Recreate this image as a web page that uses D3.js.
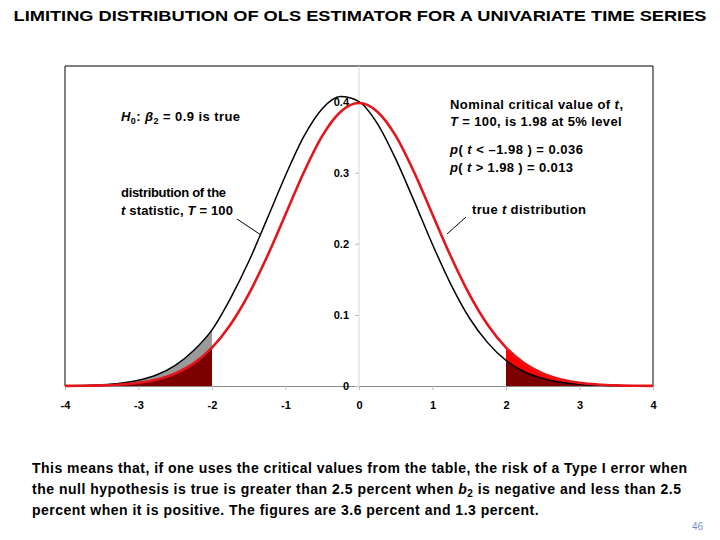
<!DOCTYPE html>
<html><head><meta charset="utf-8">
<script src="https://cdn.jsdelivr.net/npm/d3@7"></script>
<style>body{margin:0;background:#fff}svg{display:block;font-family:"Liberation Sans",Arial,sans-serif;font-weight:bold}</style>
</head><body><svg id="c" width="720" height="540"></svg>
<script>
// grid of t values at which the curves were read
const xs = [-4,-3.75,-3.5,-3.25,-3,-2.75,-2.5,-2.25,-2,-1.75,-1.5,-1.25,-1,-0.75,-0.5,-0.25,0,0.25,0.5,0.75,1,1.25,1.5,1.75,2,2.25,2.5,2.75,3,3.25,3.5,3.75,4];
// true t distribution (red)
const trueT = [0.0002,0.0004,0.0009,0.0021,0.0046,0.0093,0.0176,0.0318,0.0541,0.0862,0.1292,0.1821,0.2413,0.3006,0.3517,0.3857,0.3979,0.3857,0.3517,0.3006,0.2413,0.1821,0.1292,0.0862,0.0541,0.0318,0.0176,0.0093,0.0046,0.0021,0.0009,0.0004,0.0002];
// distribution of the t statistic, T = 100 (black)
const statT = [0.0003,0.0008,0.0018,0.0039,0.0081,0.0158,0.029,0.050,0.079,0.123,0.175,0.235,0.296,0.351,0.390,0.407,0.400,0.369,0.319,0.260,0.199,0.143,0.096,0.061,0.036,0.020,0.0107,0.0053,0.0024,0.0011,0.0004,0.0002,0.0001];
const xTicks = [-4,-3,-2,-1,0,1,2,3,4];
const yTicks = [0,0.1,0.2,0.3,0.4];
const critLow = -2, critHigh = 2;

const svg = d3.select("#c");
const x = d3.scaleLinear().domain([-4,4]).range([65,653]);
const y = d3.scaleLinear().domain([0,0.45]).range([386,66]);
const pts = xs.map((v,i)=>({x:v,r:trueT[i],b:statT[i]}));
const curve = d3.curveMonotoneX;

// stretch a text to a target width with letter spacing
function fit(sel, w){
  const node = sel.node();
  const len = node.getComputedTextLength();
  const n = node.textContent.length;
  if (n > 1) sel.attr("letter-spacing", ((w - len)/(n-1)).toFixed(3));
  return sel;
}

// title
svg.append("text").attr("x",360).attr("y",21).attr("text-anchor","middle")
  .attr("font-size",15).attr("textLength",693).attr("lengthAdjust","spacingAndGlyphs")
  .text("LIMITING DISTRIBUTION OF OLS ESTIMATOR FOR A UNIVARIATE TIME SERIES");

// frame
svg.append("path").attr("d",`M${x(-4)},386V66H${x(4)}V386`).attr("fill","none").attr("stroke","#000").attr("stroke-width",1);
// vertical axis at 0
svg.append("line").attr("x1",x(0)).attr("x2",x(0)).attr("y1",66).attr("y2",386).attr("stroke","#d8d8d8");

// tail fills
const left = pts.filter(d=>d.x<=critLow), right = pts.filter(d=>d.x>=critHigh);
svg.append("path").datum(left).attr("fill","#9a9a9a")
  .attr("d",d3.area().curve(curve).x(d=>x(d.x)).y0(d=>y(d.r)).y1(d=>y(d.b)));
svg.append("path").datum(left).attr("fill","#7d0000")
  .attr("d",d3.area().curve(curve).x(d=>x(d.x)).y0(y(0)).y1(d=>y(d.r)));
svg.append("path").datum(right).attr("fill","#ff0000")
  .attr("d",d3.area().curve(curve).x(d=>x(d.x)).y0(d=>y(d.b)).y1(d=>y(d.r)));
svg.append("path").datum(right).attr("fill","#7d0000")
  .attr("d",d3.area().curve(curve).x(d=>x(d.x)).y0(y(0)).y1(d=>y(d.b)));

// axes
const gx = svg.append("g").attr("transform","translate(0,386)")
  .call(d3.axisBottom(x).tickValues(xTicks).tickSize(4).tickFormat(d=>String(d)));
gx.select(".domain").attr("stroke","#888");
gx.selectAll(".tick line").attr("stroke","#bbb");
gx.selectAll(".tick text").attr("font-size",11).attr("font-family","Liberation Sans, Arial").attr("font-weight","bold").attr("fill","#000").attr("dy","1.45em");

const gy = svg.append("g").attr("transform",`translate(${x(0)},0)`)
  .call(d3.axisLeft(y).tickValues(yTicks).tickSize(4).tickFormat(d=>d===0?"0":d3.format(".1f")(d)));
gy.select(".domain").remove();
gy.selectAll(".tick line").attr("stroke","#bbb");
gy.selectAll(".tick text").attr("font-size",11).attr("font-family","Liberation Sans, Arial").attr("font-weight","bold").attr("fill","#000").attr("x",-10);

// curves
svg.append("path").datum(pts).attr("fill","none").attr("stroke","#000").attr("stroke-width",1.5)
  .attr("d",d3.line().curve(curve).x(d=>x(d.x)).y(d=>y(d.b)));
svg.append("path").datum(pts).attr("fill","none").attr("stroke","#e3161b").attr("stroke-width",2.6)
  .attr("d",d3.line().curve(curve).x(d=>x(d.x)).y(d=>y(d.r)));

// annotations
const fs = 13;
const h0 = svg.append("text").attr("x",121).attr("y",121).attr("font-size",fs);
h0.append("tspan").attr("font-style","italic").text("H");
h0.append("tspan").attr("font-size",9).attr("dy",3).text("0");
h0.append("tspan").attr("dy",-3).text(": ");
h0.append("tspan").attr("font-style","italic").text("β");
h0.append("tspan").attr("font-size",9).attr("dy",3).text("2");
h0.append("tspan").attr("dy",-3).text(" = 0.9 is true");
fit(h0,119);

fit(svg.append("text").attr("x",121).attr("y",197).attr("font-size",fs).text("distribution of the"),105);
const ts = svg.append("text").attr("x",121).attr("y",215).attr("font-size",fs);
ts.append("tspan").attr("font-style","italic").text("t");
ts.append("tspan").text(" statistic, ");
ts.append("tspan").attr("font-style","italic").text("T");
ts.append("tspan").text(" = 100");
fit(ts,112);
svg.append("line").attr("x1",237).attr("y1",219).attr("x2",261).attr("y2",235).attr("stroke","#000").attr("stroke-width",1);

const n1 = svg.append("text").attr("x",450).attr("y",109).attr("font-size",fs);
n1.append("tspan").text("Nominal critical value of ");
n1.append("tspan").attr("font-style","italic").text("t");
n1.append("tspan").text(",");
fit(n1,173);
const n2 = svg.append("text").attr("x",450).attr("y",126).attr("font-size",fs);
n2.append("tspan").attr("font-style","italic").text("T");
n2.append("tspan").text(" = 100, is 1.98 at 5%  level");
fit(n2,172);
const p1 = svg.append("text").attr("x",450).attr("y",154).attr("font-size",fs);
p1.append("tspan").attr("font-style","italic").text("p");
p1.append("tspan").text("( ");
p1.append("tspan").attr("font-style","italic").text("t");
p1.append("tspan").text(" < –1.98 ) = 0.036");
fit(p1,133);
const p2 = svg.append("text").attr("x",450).attr("y",172).attr("font-size",fs);
p2.append("tspan").attr("font-style","italic").text("p");
p2.append("tspan").text("( ");
p2.append("tspan").attr("font-style","italic").text("t");
p2.append("tspan").text(" > 1.98 ) = 0.013");
fit(p2,123);
const tt = svg.append("text").attr("x",472).attr("y",214).attr("font-size",fs);
tt.append("tspan").text("true ");
tt.append("tspan").attr("font-style","italic").text("t");
tt.append("tspan").text(" distribution");
fit(tt,114);
svg.append("line").attr("x1",466).attr("y1",217).attr("x2",447).attr("y2",234).attr("stroke","#000").attr("stroke-width",1);

// bottom text
fit(svg.append("text").attr("x",32).attr("y",473).attr("font-size",14)
  .text("This means that, if one uses the critical values from the table, the risk of a Type I error when"),655);
const l2 = svg.append("text").attr("x",32).attr("y",494).attr("font-size",14);
l2.append("tspan").text("the null hypothesis is true is greater than 2.5 percent when ");
l2.append("tspan").attr("font-style","italic").text("b");
l2.append("tspan").attr("font-size",10).attr("dy",3).text("2");
l2.append("tspan").attr("dy",-3).text(" is negative and less than 2.5");
fit(l2,649);
fit(svg.append("text").attr("x",32).attr("y",515).attr("font-size",14)
  .text("percent when it is positive.  The figures are 3.6 percent and 1.3 percent."),507);
svg.append("text").attr("x",703).attr("y",530).attr("text-anchor","end").attr("font-size",10).attr("font-weight","normal").attr("fill","#7a8fbf").text("46");
</script></body></html>
